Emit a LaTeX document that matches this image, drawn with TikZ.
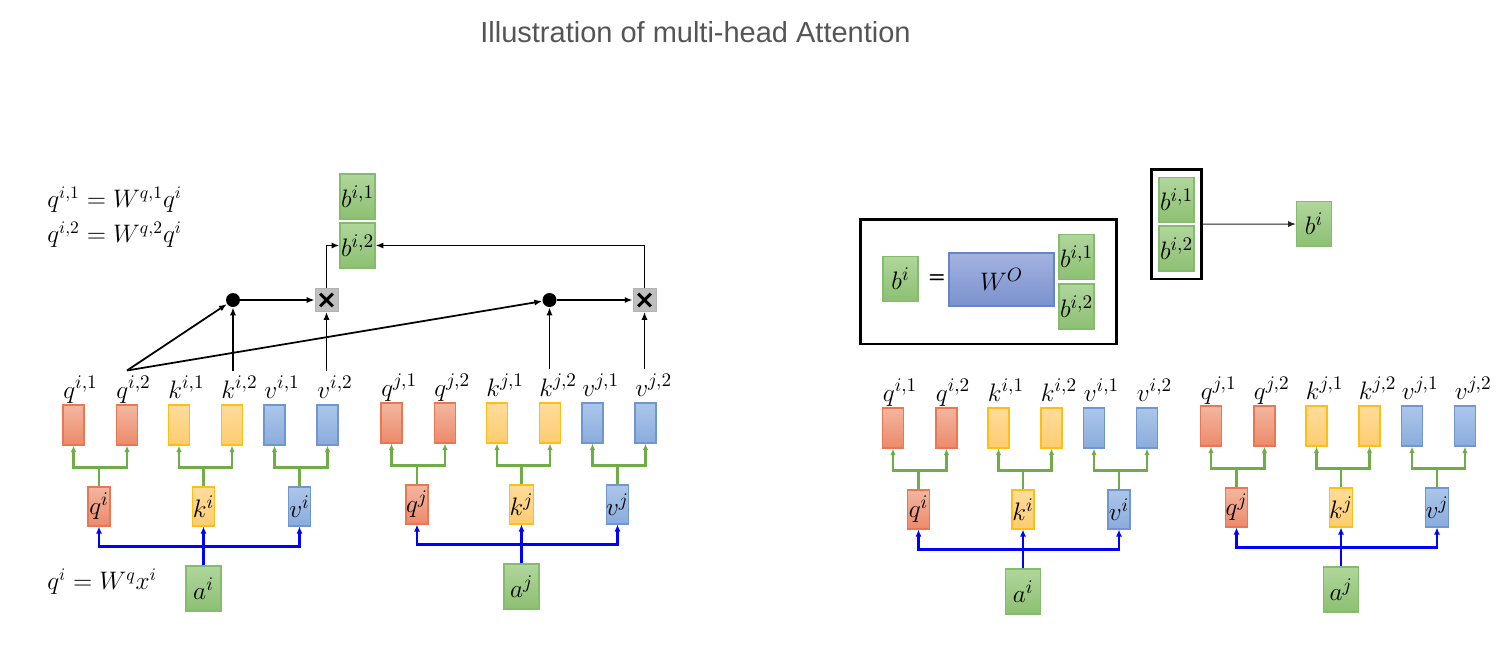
\documentclass[tikz,border=0pt]{standalone}
\usepackage{fontspec}
\usepackage{bm}
\usepackage{tikz}
\usetikzlibrary{
  arrows.meta,
  fit,
  positioning,
}
\newfontfamily\titlefont{Liberation Sans}

\definecolor{qtop}{RGB}{243,182,160}
\definecolor{qbot}{RGB}{236,138,106}
\definecolor{qedge}{RGB}{234,118,82}
\definecolor{ktop}{RGB}{254,220,155}
\definecolor{kbot}{RGB}{253,204,112}
\definecolor{kedge}{RGB}{255,190,20}
\definecolor{vtop}{RGB}{172,198,234}
\definecolor{vbot}{RGB}{138,172,220}
\definecolor{vedge}{RGB}{112,150,208}
\definecolor{gtop}{RGB}{176,214,156}
\definecolor{gbot}{RGB}{140,192,114}
\definecolor{gedge}{RGB}{132,188,108}
\definecolor{wtop}{RGB}{164,178,224}
\definecolor{wbot}{RGB}{122,146,206}
\definecolor{wedge}{RGB}{104,132,200}
\definecolor{greenline}{RGB}{112,173,71}
\definecolor{titlegray}{RGB}{85,85,85}

\tikzstyle{tok} = [rectangle, inner sep=0pt, line width=0.6pt, font=\fontsize{15}{17}\selectfont]
\tikzstyle{headbox} = [tok, minimum width=0.42cm, minimum height=0.8cm]
\tikzstyle{midbox} = [tok, minimum width=0.44cm, minimum height=0.78cm]
\tikzstyle{bbox} = [tok, minimum width=0.7cm, minimum height=0.9cm]
\tikzstyle{qcol} = [draw=qedge, top color=qtop, bottom color=qbot]
\tikzstyle{kcol} = [draw=kedge, top color=ktop, bottom color=kbot]
\tikzstyle{vcol} = [draw=vedge, top color=vtop, bottom color=vbot]
\tikzstyle{gcol} = [draw=gedge, top color=gtop, bottom color=gbot]
\tikzstyle{lbl} = [inner xsep=0pt, inner ysep=3pt, anchor=base west, font=\fontsize{15}{17}\selectfont]
\tikzstyle{eqn} = [inner sep=0pt, anchor=west, font=\fontsize{14}{16}\selectfont]
\tikzstyle{dot} = [circle, fill=black, inner sep=0pt, minimum size=0.28cm]
\tikzstyle{mulbox} = [rectangle, draw=black!30, fill=black!25, inner sep=0pt, minimum size=0.46cm,
  path picture={\draw[line width=1.7pt, black]
    ([shift={(-3.6pt,-3.6pt)}]path picture bounding box.center) -- ([shift={(3.6pt,3.6pt)}]path picture bounding box.center)
    ([shift={(-3.6pt,3.6pt)}]path picture bounding box.center) -- ([shift={(3.6pt,-3.6pt)}]path picture bounding box.center);}]
\tikzstyle{frame} = [rectangle, draw=black, line width=1.5pt]
\tikzstyle{arr} = [-{Latex[length=4.5pt,width=3.5pt]}, line width=1pt, black]
\tikzstyle{garr} = [-{Latex[length=3.8pt,width=3.2pt]}, line width=1.2pt, greenline]
\tikzstyle{barr} = [-{Latex[length=4pt,width=3.5pt]}, line width=1.4pt, blue]

% one token: a -> q,k,v -> two heads each
\newcommand{\headblock}[3]{%
  \begin{scope}[shift={#3}]
    \node[headbox, qcol] (#1q1) at (73.5,425) {};
    \node[headbox, qcol] (#1q2) at (127,425) {};
    \node[headbox, kcol] (#1k1) at (179,425) {};
    \node[headbox, kcol] (#1k2) at (232,425) {};
    \node[headbox, vcol] (#1v1) at (274.5,425) {};
    \node[headbox, vcol] (#1v2) at (327.5,425) {};
    \node[lbl] (#1tq1) at (63,398) {$q^{#2,1}$};
    \node[lbl] (#1tq2) at (116,398) {$q^{#2,2}$};
    \node[lbl] (#1tk1) at (168,398) {$k^{#2,1}$};
    \node[lbl] (#1tk2) at (221,398) {$k^{#2,2}$};
    \node[lbl] (#1tv1) at (264,398) {$v^{#2,1}$};
    \node[lbl] (#1tv2) at (317,398) {$v^{#2,2}$};
    \node[midbox, qcol] (#1mq) at (99,506.5) {$q^{#2}$};
    \node[midbox, kcol] (#1mk) at (203.5,506.5) {$k^{#2}$};
    \node[midbox, vcol] (#1mv) at (299.5,506.5) {$v^{#2}$};
    \node[bbox, gcol] (#1a) at (203.5,588.5) {$a^{#2}$};
    \draw[garr] (#1mq.north) -- ++(0,-19) -| (#1q1.south);
    \draw[garr] (#1mq.north) -- ++(0,-19) -| (#1q2.south);
    \draw[garr] (#1mk.north) -- ++(0,-19) -| (#1k1.south);
    \draw[garr] (#1mk.north) -- ++(0,-19) -| (#1k2.south);
    \draw[garr] (#1mv.north) -- ++(0,-19) -| (#1v1.south);
    \draw[garr] (#1mv.north) -- ++(0,-19) -| (#1v2.south);
    \draw[barr] (#1a.north) -- (#1mk.south);
    \draw[barr] (#1a.north) -- ++(0,-19) -| (#1mq.south);
    \draw[barr] (#1a.north) -- ++(0,-19) -| (#1mv.south);
  \end{scope}}

\begin{document}
\begin{tikzpicture}[x=0.02cm, y=-0.02cm]
  \useasboundingbox (0,0) rectangle (1498,656);
  \node[font=\titlefont\fontsize{16.5}{20}\selectfont, text=titlegray] (title) at (695.5,32) {Illustration of multi-head Attention};

  % left: attention of head 2
  \headblock{li-}{i}{(0,0)}
  \headblock{lj-}{j}{(318,-2)}
  \node[eqn] (eq1) at (47,200) {$q^{i,1} = W^{q,1}q^i$};
  \node[eqn] (eq2) at (47,235) {$q^{i,2} = W^{q,2}q^i$};
  \node[eqn] (eq3) at (47,582) {$q^i = W^q x^i$};
  \node[dot] (dot1) at (233,300) {};
  \node[mulbox] (mul1) at (326.5,300) {};
  \node[dot] (dot2) at (549.5,300) {};
  \node[mulbox] (mul2) at (644.5,300) {};
  \node[bbox, gcol] (bh1) at (357.5,196.5) {$b^{i,1}$};
  \node[bbox, gcol] (bh2) at (357.5,245.5) {$b^{i,2}$};
  \coordinate (qsrc) at (li-q2 |- li-tq2.north);
  \draw[arr] (qsrc) -- (dot1);
  \draw[arr] (qsrc) -- (dot2);
  \draw[arr] (dot1 |- li-tk2.north) -- (dot1);
  \draw[arr] (dot1) -- (mul1);
  \draw[arr] (mul1 |- li-tv2.north) -- (mul1);
  \draw[arr] (mul1) |- (bh2);
  \draw[arr] (dot2 |- lj-tk2.north) -- (dot2);
  \draw[arr] (dot2) -- (mul2);
  \draw[arr] (mul2 |- lj-tv2.north) -- (mul2);
  \draw[arr] (mul2) |- (bh2);

  % right: concatenate the heads
  \headblock{ri-}{i}{(819.5,3)}
  \headblock{rj-}{j}{(1137.5,1)}
  \node[bbox, gcol] (bout) at (900.5,279) {$b^i$};
  \node[font=\sffamily\bfseries\fontsize{11}{11}\selectfont] (eqsign) at (937,279) {=};
  \node[tok, draw=wedge, top color=wtop, bottom color=wbot, minimum width=2.1cm, minimum height=1.06cm] (wo) at (1001.5,279.5) {$W^O$};
  \node[bbox, gcol] (bc1) at (1076.5,257) {$b^{i,1}$};
  \node[bbox, gcol] (bc2) at (1076.5,306.5) {$b^{i,2}$};
  \node[frame, fit=(bout)(wo)(bc1)(bc2), inner xsep=0.44cm, inner ysep=0.29cm] (bigframe) {};
  \node[bbox, gcol] (bs1) at (1176.5,200) {$b^{i,1}$};
  \node[bbox, gcol] (bs2) at (1176.5,248.5) {$b^{i,2}$};
  \node[frame, fit=(bs1)(bs2), inner xsep=0.14cm, inner ysep=0.15cm] (sframe) {};
  \node[bbox, gcol] (bfin) at (1314,224) {$b^i$};
  \draw[-{Latex[length=4.5pt,width=3.5pt]}, line width=0.6pt, black!85] (sframe) -- (bfin);
\end{tikzpicture}
\end{document}
